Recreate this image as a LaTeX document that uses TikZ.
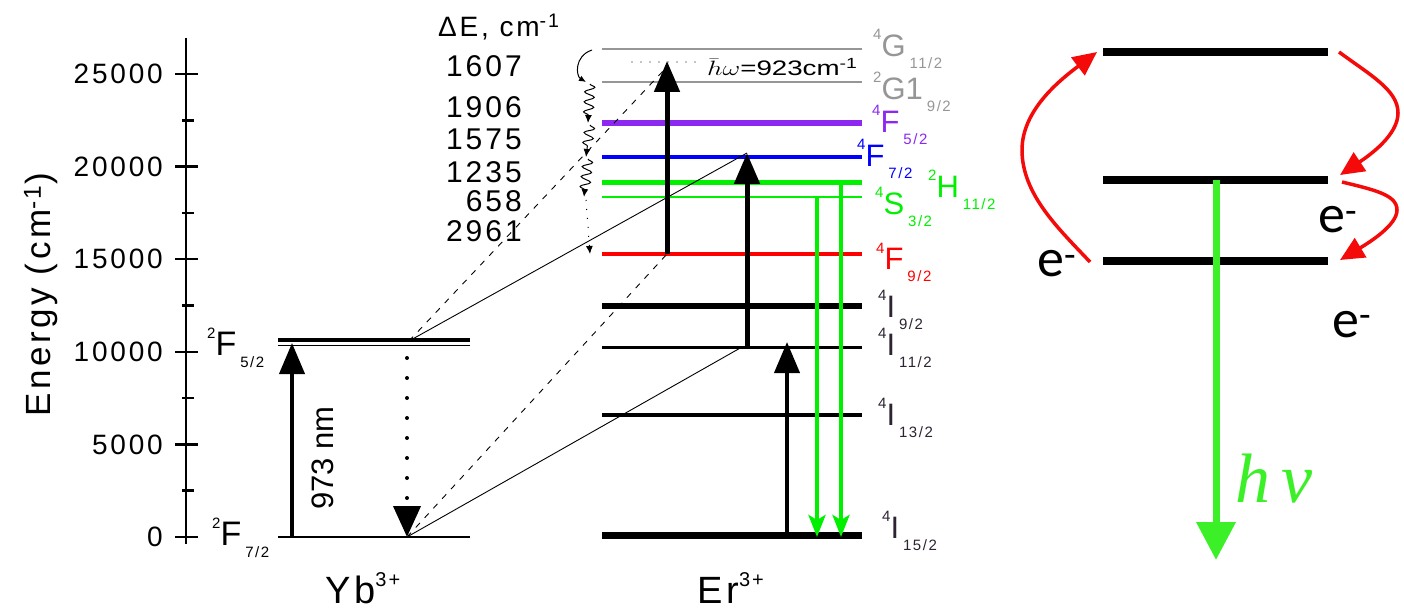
\documentclass[tikz,border=0pt]{standalone}
\usepackage{fontspec}
\setmainfont{Liberation Sans}
\newfontfamily\wide[LetterSpace=10]{Liberation Sans}
\newfontfamily\calfont{Carlito}
\newfontfamily\timesit{Liberation Serif}
\usetikzlibrary{arrows.meta,decorations.pathmorphing}

\definecolor{lvgray}{RGB}{150,150,150}
\definecolor{lvpurple}{RGB}{140,40,240}
\definecolor{lvblue}{RGB}{0,0,255}
\definecolor{lvgreen}{RGB}{0,240,0}
\definecolor{lvred}{RGB}{255,0,0}
\definecolor{lvdark}{RGB}{45,35,50}
\definecolor{hvgreen}{RGB}{60,240,40}
\definecolor{hopred}{RGB}{245,10,10}

% term symbol: superscript, letter, subscript
\newcommand{\term}[3]{\raisebox{17pt}{\fontsize{15}{15}\selectfont#1}#2\hspace{4pt}\raisebox{-12pt}{\wide\fontsize{15}{15}\selectfont#3}}

\begin{document}
\begin{tikzpicture}[x=1pt,y=-1pt,
  lvl/.style={line width=#1},
  pump/.style={line width=5pt,-{Triangle[length=31pt,width=25pt]}},
  emit/.style={lvgreen,line width=4pt,-{Stealth[length=22pt,width=17pt,inset=5pt]}},
  transfer/.style={line width=0.9pt},
  relax/.style={line width=1pt,decorate,decoration={snake,amplitude=5pt,segment length=10pt,post length=6pt},-{Latex[length=8pt,width=7pt]}},
  hop/.style={hopred,line width=3.5pt,-{Triangle[length=24pt,width=22pt]}},
  trm/.style={anchor=base west,inner sep=0pt,font=\fontsize{31}{31}\selectfont},
  num/.style={anchor=base east,inner sep=0pt,font=\wide\fontsize{30}{30}\selectfont},
  elec/.style={anchor=base west,inner sep=0pt,font=\calfont\fontsize{54}{54}\selectfont}]
\useasboundingbox (0,0) rectangle (1404,609);

% energy axis, y = 537 - 18.52 per 1000 cm^-1
\draw[line width=2.5pt] (186,38) -- (186,544);
\foreach \k/\lab in {0/0,5/5000,10/10000,15/15000,20/20000,25/25000}{
  \pgfmathsetmacro{\yy}{537-\k*18.52}
  \draw[line width=2.5pt] (175,\yy) -- (198,\yy);
  \node[anchor=east,inner sep=0pt,font=\wide\fontsize{28}{28}\selectfont] (tick\k) at (163,\yy) {\lab};
}
\foreach \k in {2.5,7.5,...,22.5}{
  \pgfmathsetmacro{\yy}{537-\k*18.52}
  \draw[line width=2.5pt] (182,\yy) -- (194,\yy);
}
\node[rotate=90,anchor=base,inner sep=0pt,font=\wide\fontsize{35}{35}\selectfont] (energy) at (50,295) {Energy (cm\textsuperscript{-1})};

% Yb levels
\draw[lvl=4pt] (278,340) -- (470,340);
\draw[lvl=1.2pt] (278,345.5) -- (470,345.5);
\draw[lvl=2pt] (278,537) -- (470,537);
\node[trm,font=\fontsize{34}{34}\selectfont] (ybF5) at (207,355) {\term{2}{F}{5/2}};
\node[trm,font=\fontsize{34}{34}\selectfont] (ybF7) at (212,545) {\term{2}{F}{7/2}};
\node[anchor=base west,inner sep=0pt,font=\wide\fontsize{38}{38}\selectfont] (yb) at (325,603) {Yb\raisebox{17pt}{\fontsize{20}{20}\selectfont 3+}};

\coordinate (ybA) at (292,537);
\coordinate (ybB) at (292,343);
\coordinate (ybLo) at (407,537);
\coordinate (ybHi) at (409,341);
\coordinate (ybDot) at (407,358);
\draw[pump,line width=4pt] (ybA) -- (ybB);
\node[rotate=90,anchor=base,inner sep=0pt,font=\fontsize{31}{31}\selectfont] (pumpnm) at (333,458) {973 nm};
\draw[line width=4pt,line cap=round,dash pattern=on 0pt off 20pt,-{Triangle[length=31pt,width=27pt]}] (ybDot) -- (ybLo);

% Er levels
\foreach \y/\w/\c in {49/1.7/lvgray,82/2.7/lvgray,123/6/lvpurple,157/3.5/lvblue,183/5/lvgreen,197/2/lvgreen,254/4.5/lvred,306/6/black,347/3/black,415/4.5/black,535/7/black}
  \draw[line width=\w pt,\c] (602,\y) -- (862,\y);

\node[trm,text=lvgray] (erG11) at (873,57) {\term{4}{G}{11/2}};
\node[trm,text=lvgray] (erG9) at (873,100) {\term{2}{G1}{9/2}};
\node[trm,text=lvpurple] (erF5) at (872,133) {\term{4}{F}{5/2}};
\node[trm,text=lvblue] (erF7l) at (857,167) {\term{4}{F}{7/2}};
\node[trm,text=lvgreen] (erH11) at (928,198) {\term{2}{H}{11/2}};
\node[trm,text=lvgreen] (erS3) at (875,215) {\term{4}{S}{3/2}};
\node[trm,text=lvred] (erF9l) at (876,270) {\term{4}{F}{9/2}};
\node[trm,text=lvdark] (erI9) at (878,317) {\term{4}{I}{9/2}};
\node[trm,text=lvdark] (erI11l) at (878,355) {\term{4}{I}{11/2}};
\node[trm,text=lvdark] (erI13) at (878,425) {\term{4}{I}{13/2}};
\node[trm,text=lvdark] (erI15) at (882,538) {\term{4}{I}{15/2}};
\node[anchor=base west,inner sep=0pt,font=\wide\fontsize{38}{38}\selectfont] (er) at (697,603) {Er\raisebox{17pt}{\fontsize{20}{20}\selectfont 3+}};

% relaxation steps
\node[anchor=base west,inner sep=0pt,font=\wide\fontsize{28}{28}\selectfont] (dE) at (438,37) {ΔE, cm\textsuperscript{-1}};
\node[num] (d1) at (522,77) {1607};
\node[num] (d2) at (522,118) {1906};
\node[num] (d3) at (522,150) {1575};
\node[num] (d4) at (522,183) {1235};
\node[num] (d5) at (522,212) {658};
\node[num] (d6) at (522,242) {2961};
\draw[line width=1pt,-{Latex[length=7pt,width=6pt]}] (592,50) .. controls (574,56) and (576,76) .. (586,82);
\draw[relax] (590,84) -- (588,123);
\draw[relax] (590,125) -- (586,157);
\draw[relax] (588,159) -- (584,197);
\draw[line width=1pt,dash pattern=on 1pt off 8pt,-{Latex[length=8pt,width=7pt]}] (586,200) -- (590,254);

% Er transitions
\coordinate (erF9) at (667,254);
\coordinate (erTop) at (667,61);
\coordinate (erMid) at (747,347);
\coordinate (erF7) at (747,153);
\coordinate (erI11) at (742,347);
\coordinate (erGnd) at (787,535);
\coordinate (erI11b) at (787,342);
\coordinate (erS) at (817,197);
\coordinate (erSg) at (817,537);
\coordinate (erH) at (841,183);
\coordinate (erHg) at (841,537);
\coordinate (erDash) at (664,70);

\draw[transfer] (ybHi) -- (erF7);
\draw[transfer] (ybLo) -- (erI11);
\draw[transfer,dash pattern=on 6pt off 7pt] (ybLo) -- (erF9);
\draw[transfer,dash pattern=on 6pt off 7pt] (ybHi) -- (erDash);
\draw[pump] (erF9) -- (erTop);
\draw[pump] (erMid) -- (erF7);
\draw[pump,line width=4pt] (erGnd) -- (erI11b);
\draw[emit] (erS) -- (erSg);
\draw[emit] (erH) -- (erHg);
\draw[line width=1.3pt,line cap=round,dash pattern=on 0pt off 9pt] (632,62) -- (700,62);
\node[anchor=base west,inner sep=0pt,font=\fontsize{21}{21}\selectfont] (phonon) at (707,76) {\scalebox{1.32}[1]{$\bar{h}\omega$=923cm\textsuperscript{-1}}};

% scheme on the right
\draw[lvl=8pt] (1103,52) -- (1328,52);
\draw[lvl=8pt] (1103,180) -- (1328,180);
\draw[lvl=8pt] (1103,261) -- (1328,261);
\coordinate (upS) at (1090,262);
\coordinate (upT) at (1097,52);
\coordinate (dnS) at (1339,52);
\coordinate (dnT) at (1340,175);
\coordinate (lwS) at (1342,182);
\coordinate (lwT) at (1340,260);
\coordinate (phS) at (1216,180);
\coordinate (phT) at (1216,560);
\draw[hop] (upS) .. controls (1060,230) and (1022,195) .. (1022,150) .. controls (1022,110) and (1060,80) .. (upT);
\draw[hop] (dnS) .. controls (1370,75) and (1398,90) .. (1398,113) .. controls (1398,135) and (1370,155) .. (dnT);
\draw[hop] (lwS) .. controls (1375,190) and (1397,195) .. (1397,210) .. controls (1397,225) and (1370,242) .. (lwT);
\draw[hvgreen,line width=7pt,-{Triangle[length=38pt,width=38pt]}] (phS) -- (phT);
\node[anchor=base west,inner sep=0pt,text=hvgreen,font=\timesit\itshape\fontsize{70}{70}\selectfont] (hnu) at (1235,502) {h\,ν};
\node[elec] (eL) at (1037,277) {e\textsuperscript{-}};
\node[elec] (eM) at (1318,233) {e\textsuperscript{-}};
\node[elec] (eB) at (1332,337) {e\textsuperscript{-}};
\end{tikzpicture}
\end{document}
